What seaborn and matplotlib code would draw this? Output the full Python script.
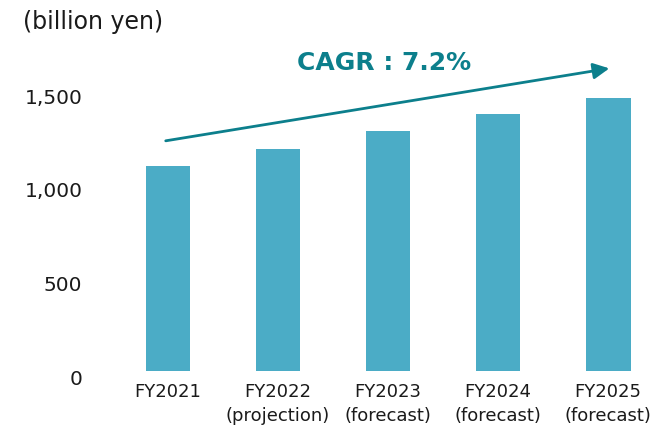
import matplotlib
matplotlib.use("Agg")
import matplotlib.pyplot as plt
import matplotlib.transforms as mtransforms
import seaborn as sns
import pandas as pd

# Chart data (billion yen)
years = ['FY2021', 'FY2022', 'FY2023', 'FY2024', 'FY2025']
notes = ['', '(projection)', '(forecast)', '(forecast)', '(forecast)']
market = [1090, 1180, 1276, 1367, 1451]
yticks = [0, 500, 1000, 1500]

bar_color = '#4BACC6'
teal = '#0C7F8C'

sns.set_theme(style='white')
plt.rcParams['font.family'] = ['DejaVu Sans']

labels = [f'{y}\n{n}' if n else y for y, n in zip(years, notes)]
df = pd.DataFrame({'year': labels, 'value': market})

fig = plt.figure(figsize=(6.72, 4.25), dpi=100)
ax = fig.add_axes([0.168, 0.1282, 0.819, 0.7948])

sns.barplot(data=df, x='year', y='value', color=bar_color, width=0.405,
            saturation=1, linewidth=0, ax=ax)

ax.set_ylim(0, 1800)
ax.set_xlim(-0.5, 4.5)
ax.set_yticks(yticks)
ax.set_yticklabels([f'{v:,}' for v in yticks])
ax.set_xlabel('')
ax.set_ylabel('')
sns.despine(ax=ax, left=True, bottom=True)
ax.tick_params(axis='y', length=0, pad=22, labelsize=14.5, labelcolor='#1a1a1a')
ax.tick_params(axis='x', length=0, pad=9, labelsize=13, labelcolor='#1a1a1a')

# tick labels sit a little below the value they mark
offset = mtransforms.ScaledTranslation(0, -0.07, fig.dpi_scale_trans)
for lab in ax.get_yticklabels():
    lab.set_transform(lab.get_transform() + offset)
for lab in ax.get_xticklabels():
    lab.set_linespacing(1.4)

# unit label
fig.text(0.034, 0.948, '(billion yen)', fontsize=17, color='#1a1a1a',
         ha='left', va='center')

# growth arrow and CAGR annotation
ax.annotate('', xy=(4.01, 1610), xytext=(-0.02, 1224),
            arrowprops=dict(arrowstyle='-|>', color=teal, lw=2,
                            mutation_scale=24, shrinkA=0, shrinkB=0))
ax.text(1.96, 1640, 'CAGR : 7.2%', color=teal, fontsize=18,
        fontweight='bold', ha='center', va='center')

fig.savefig('out.png', dpi=100)
